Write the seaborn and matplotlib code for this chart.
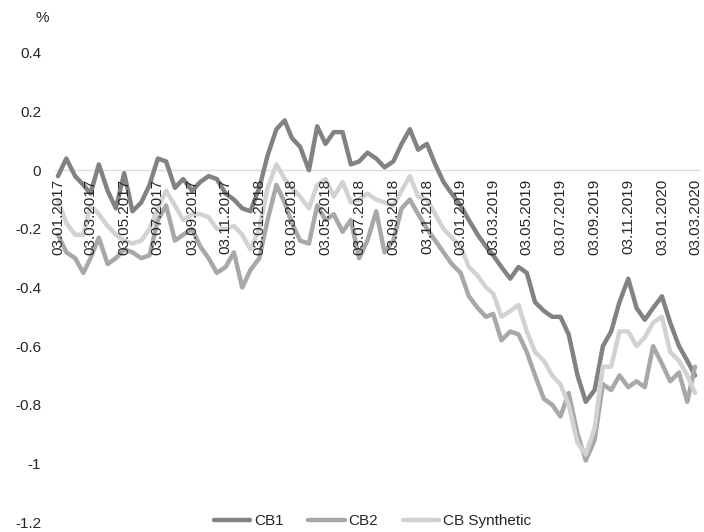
import pandas as pd
import matplotlib
matplotlib.use('Agg')
import matplotlib.pyplot as plt
import matplotlib.dates as mdates
import seaborn as sns

# semi-monthly readings (3rd and 18th of each month), values in %
dates = pd.to_datetime([f'{y}-{m:02d}-{d:02d}'
                        for y in range(2017, 2021) for m in range(1, 13) for d in (3, 18)])
dates = dates[(dates >= '2017-01-03') & (dates <= '2020-03-03')]

cb1 = [-0.02, 0.04, -0.02, -0.05, -0.08, 0.02, -0.07, -0.13, -0.01, -0.14,
       -0.11, -0.05, 0.04, 0.03, -0.06, -0.03, -0.07, -0.04, -0.02, -0.03,
       -0.08, -0.10, -0.13, -0.14, -0.06, 0.05, 0.14, 0.17, 0.11, 0.08,
       0.00, 0.15, 0.09, 0.13, 0.13, 0.02, 0.03, 0.06, 0.04, 0.01,
       0.03, 0.09, 0.14, 0.07, 0.09, 0.02, -0.04, -0.08, -0.12, -0.17,
       -0.22, -0.26, -0.29, -0.33, -0.37, -0.33, -0.35, -0.45, -0.48, -0.50,
       -0.50, -0.56, -0.70, -0.79, -0.75, -0.60, -0.55, -0.45, -0.37, -0.47,
       -0.51, -0.47, -0.43, -0.52, -0.60, -0.65, -0.70]

cb2 = [-0.22, -0.28, -0.30, -0.35, -0.30, -0.23, -0.32, -0.30, -0.27, -0.28,
       -0.30, -0.29, -0.17, -0.12, -0.24, -0.22, -0.20, -0.26, -0.30, -0.35,
       -0.33, -0.28, -0.40, -0.34, -0.30, -0.17, -0.05, -0.11, -0.18, -0.24,
       -0.25, -0.12, -0.17, -0.15, -0.21, -0.17, -0.30, -0.24, -0.14, -0.28,
       -0.24, -0.13, -0.10, -0.15, -0.20, -0.24, -0.28, -0.32, -0.35, -0.43,
       -0.47, -0.50, -0.49, -0.58, -0.55, -0.56, -0.62, -0.70, -0.78, -0.80,
       -0.84, -0.76, -0.90, -0.99, -0.92, -0.73, -0.75, -0.70, -0.74, -0.72,
       -0.74, -0.60, -0.66, -0.72, -0.69, -0.79, -0.67]

cb_syn = [-0.10, -0.18, -0.22, -0.22, -0.12, -0.15, -0.19, -0.22, -0.24, -0.25,
          -0.24, -0.20, -0.13, -0.07, -0.12, -0.17, -0.15, -0.15, -0.16, -0.20,
          -0.20, -0.19, -0.22, -0.27, -0.20, -0.06, 0.02, -0.03, -0.06, -0.09,
          -0.13, -0.05, -0.03, -0.09, -0.04, -0.11, -0.10, -0.08, -0.10, -0.11,
          -0.12, -0.07, -0.02, -0.09, -0.10, -0.15, -0.20, -0.23, -0.26, -0.33,
          -0.36, -0.40, -0.42, -0.50, -0.48, -0.46, -0.55, -0.62, -0.65, -0.70,
          -0.73, -0.80, -0.93, -0.97, -0.88, -0.67, -0.67, -0.55, -0.55, -0.60,
          -0.57, -0.52, -0.50, -0.62, -0.65, -0.70, -0.76]

series_names = ['CB1', 'CB2', 'CB Synthetic']
colors = ['#828282', '#a8a8a8', '#d2d2d2']
tick_dates = pd.date_range('2017-01-01', '2020-03-01', freq='2MS') + pd.Timedelta(days=2)
y_ticks = [0.4, 0.2, 0, -0.2, -0.4, -0.6, -0.8, -1, -1.2]

df = pd.DataFrame({'date': list(dates) * 3,
                   'value': cb1 + cb2 + cb_syn,
                   'series': [n for n in series_names for _ in dates]})

sns.set_style('white')
plt.rcParams['font.family'] = ['Liberation Sans', 'DejaVu Sans']
fs = 11

fig = plt.figure(figsize=(7.04, 5.32), dpi=100)
ax = fig.add_axes([55 / 704, 10 / 532, 645 / 704, 469 / 532])

sns.lineplot(data=df, x='date', y='value', hue='series', hue_order=series_names,
             palette=colors, linewidth=3.2, ax=ax, legend=True)

# x-limits so that first/last tick sit near the plot edges
start, end = dates[0], dates[-1]
ppd = (695 - 58) / (end - start).days
ax.set_xlim(start - pd.Timedelta(days=3 / ppd), end + pd.Timedelta(days=5 / ppd))
ax.set_ylim(-1.2, 0.4)

ax.axhline(0, color='#d9dde8', linewidth=1, zorder=0)
for s in ax.spines.values():
    s.set_visible(False)
ax.spines['bottom'].set_position(('data', 0))
ax.xaxis.set_zorder(5)

ax.set_xticks(tick_dates)
ax.xaxis.set_major_formatter(mdates.DateFormatter('%d.%m.%Y'))
ax.tick_params(axis='x', length=0, pad=6, labelsize=fs, rotation=90)
ax.set_yticks(y_ticks)
ax.set_yticklabels([f'{v:g}' for v in y_ticks])
ax.tick_params(axis='y', length=0, pad=10, labelsize=fs)
ax.set_xlabel('')
ax.set_ylabel('')

handles, labels = ax.get_legend_handles_labels()
ax.get_legend().remove()
fig.legend(handles, labels, loc='center', bbox_to_anchor=(0.529, 1 - 521 / 532),
           ncol=3, frameon=False, fontsize=fs, handlelength=2.4,
           handletextpad=0.25, columnspacing=1.6)

fig.text(42 / 704, 1 - 18 / 532, '%', ha='center', va='center', fontsize=fs)

plt.savefig('out.png', dpi=100)
